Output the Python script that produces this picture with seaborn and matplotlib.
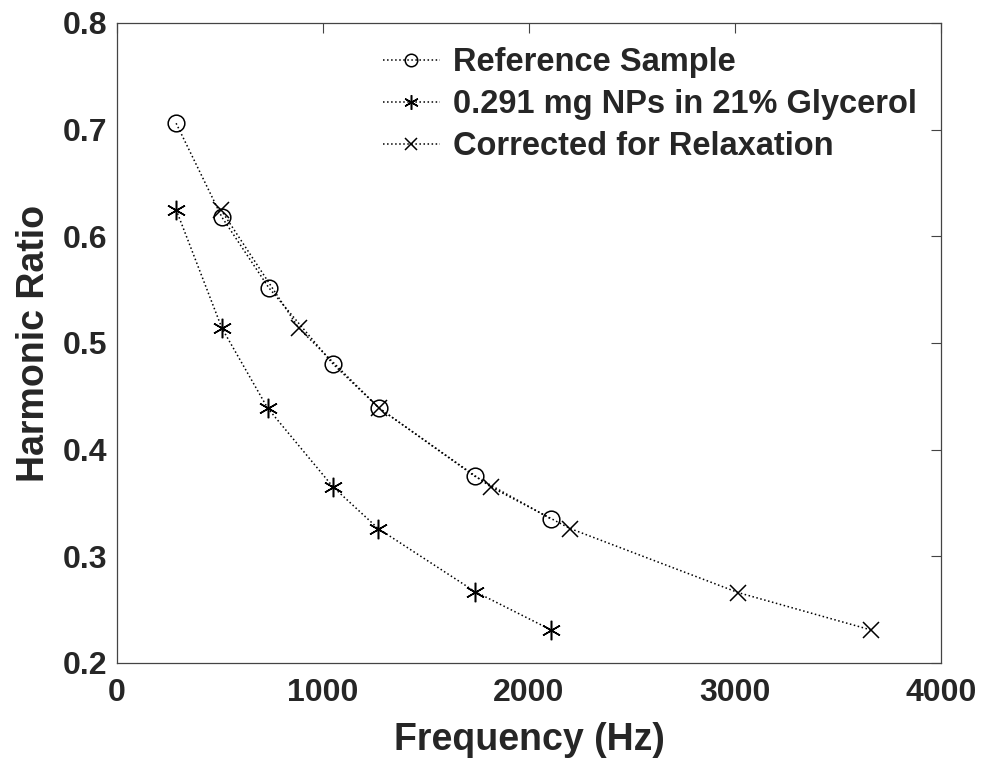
import matplotlib
matplotlib.use("Agg")
import matplotlib.pyplot as plt
import seaborn as sns
import pandas as pd

# values
ref_freq = [287, 509, 736, 1050, 1272, 1737, 2107]
ref_ratio = [0.706, 0.618, 0.552, 0.480, 0.439, 0.375, 0.335]

np_freq = [287, 509, 731, 1049, 1268, 1737, 2107]
np_ratio = [0.625, 0.514, 0.439, 0.365, 0.326, 0.267, 0.231]

corr_freq = [504, 882, 1272, 1815, 2200, 3015, 3659]
corr_ratio = [0.625, 0.514, 0.439, 0.365, 0.326, 0.266, 0.231]

labels = ["Reference Sample", "0.291 mg NPs in 21% Glycerol", "Corrected for Relaxation"]

sns.set_style("white")
plt.rcParams['font.family'] = ['Liberation Sans', 'DejaVu Sans']

fig = plt.figure(figsize=(9.89, 7.66), dpi=100)
ax = fig.add_axes([0.1183, 0.1345, 0.8332, 0.8355])

series = [
    (ref_freq, ref_ratio, labels[0], dict(marker="o", markersize=12, markerfacecolor="none")),
    (np_freq, np_ratio, labels[1], dict(marker=(6, 2, 0), markersize=14)),
    (corr_freq, corr_ratio, labels[2], dict(marker="x", markersize=11)),
]

for xs, ys, lab, mk in series:
    df = pd.DataFrame({"freq": xs, "ratio": ys})
    sns.lineplot(data=df, x="freq", y="ratio", ax=ax, label=lab, color="black",
                 linestyle=":", linewidth=1.1, estimator=None, sort=False,
                 markeredgecolor="black", markeredgewidth=1.1, **mk)

ax.set_xlim(0, 4000)
ax.set_ylim(0.2, 0.8)
ax.set_xticks([0, 1000, 2000, 3000, 4000])
ax.set_yticks([0.2, 0.3, 0.4, 0.5, 0.6, 0.7, 0.8])
ax.set_yticklabels(["0.2", "0.3", "0.4", "0.5", "0.6", "0.7", "0.8"])

ax.tick_params(direction="in", length=7, width=0.8, color="#444444",
               top=True, right=True, labelsize=23, pad=7)
ax.tick_params(axis="x", pad=11)
for lbl in ax.get_xticklabels() + ax.get_yticklabels():
    lbl.set_fontweight("bold")
for sp in ax.spines.values():
    sp.set_color("#444444")
    sp.set_linewidth(0.9)

ax.set_xlabel("Frequency (Hz)", fontsize=27, fontweight="bold", labelpad=10)
ax.set_ylabel("Harmonic Ratio", fontsize=27, fontweight="bold", labelpad=8)

leg = ax.legend(loc="upper right", frameon=False,
                prop={"weight": "bold", "size": 23.5}, handlelength=1.75,
                handletextpad=0.4, labelspacing=0.33, borderaxespad=0.35)
for h in leg.legend_handles:
    h.set_markersize(h.get_markersize() * 0.75)

fig.savefig("out.png", dpi=100)
